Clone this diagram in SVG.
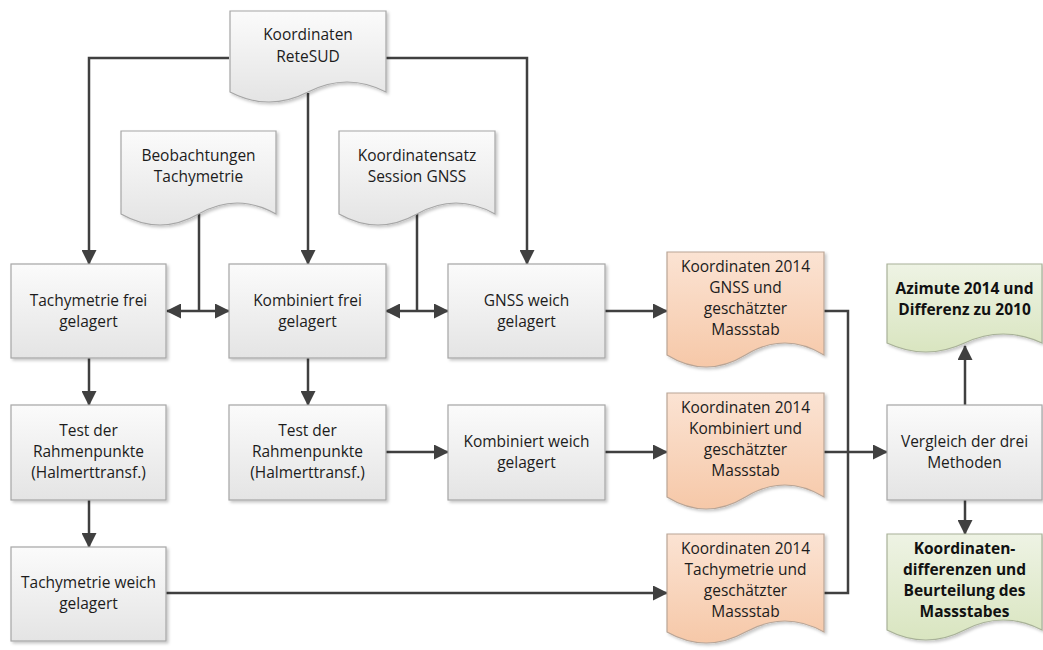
<svg xmlns="http://www.w3.org/2000/svg" width="1043" height="650" viewBox="0 0 1043 650">
<defs>
<linearGradient id="gGrey" x1="0" y1="0" x2="0" y2="1"><stop offset="0" stop-color="#fbfbfb"/><stop offset="1" stop-color="#e4e4e4"/></linearGradient>
<linearGradient id="gOrange" x1="0" y1="0" x2="0" y2="1"><stop offset="0" stop-color="#fbe3d3"/><stop offset="1" stop-color="#f6c8a8"/></linearGradient>
<linearGradient id="gGreen" x1="0" y1="0" x2="0" y2="1"><stop offset="0" stop-color="#eef3e4"/><stop offset="1" stop-color="#d9e5c0"/></linearGradient>
<filter id="sh" x="-10%" y="-10%" width="130%" height="130%"><feDropShadow dx="2" dy="2" stdDeviation="1.5" flood-color="#000" flood-opacity="0.22"/></filter>
<marker id="arr" markerUnits="userSpaceOnUse" markerWidth="15" markerHeight="15" viewBox="0 0 15 15" refX="14" refY="7.5" orient="auto-start-reverse"><path d="M0,0 L15,7.5 L0,15 z" fill="#404040"/></marker>
<style>
.grey{fill:url(#gGrey);stroke:#a6a6a6;stroke-width:1.2;filter:url(#sh)}
.orange{fill:url(#gOrange);stroke:#b9a596;stroke-width:1.2;filter:url(#sh)}
.green{fill:url(#gGreen);stroke:#a8b198;stroke-width:1.2;filter:url(#sh)}
text{font-family:"Open Sans","DejaVu Sans",sans-serif;font-size:15.5px;fill:#1c1c1c;text-anchor:middle}
.b{font-weight:bold;fill:#111}
.c{fill:none;stroke:#404040;stroke-width:2.5}
</style>
</defs>

<g id="connectors">
<path class="c" d="M229,58 H89 V264" marker-end="url(#arr)"/>
<path class="c" d="M386,58 H527 V264" marker-end="url(#arr)"/>
<path class="c" d="M308,93 V264" marker-end="url(#arr)"/>
<path class="c" d="M199,214 V311"/>
<path class="c" d="M167,311 H229" marker-start="url(#arr)" marker-end="url(#arr)"/>
<path class="c" d="M417,214 V311"/>
<path class="c" d="M386,311 H448" marker-start="url(#arr)" marker-end="url(#arr)"/>
<path class="c" d="M605,311 H667" marker-end="url(#arr)"/>
<path class="c" d="M89,358 V405" marker-end="url(#arr)"/>
<path class="c" d="M89,500 V547" marker-end="url(#arr)"/>
<path class="c" d="M308,358 V405" marker-end="url(#arr)"/>
<path class="c" d="M386,452 H448" marker-end="url(#arr)"/>
<path class="c" d="M605,452 H667" marker-end="url(#arr)"/>
<path class="c" d="M166,593 H667" marker-end="url(#arr)"/>
<path class="c" d="M824,311 H848 V593 H824"/>
<path class="c" d="M824,452 H887" marker-end="url(#arr)"/>
<path class="c" d="M965,405 V346" marker-end="url(#arr)"/>
<path class="c" d="M965,500 V534" marker-end="url(#arr)"/>
</g>

<g id="n-retesud">
<path class="grey" d="M230,11 H386 V92 Q347,72 308,92 Q269,112 230,92 Z"/>
<text x="308" y="40">Koordinaten</text><text x="308" y="62">ReteSUD</text>
</g>
<g id="n-beob">
<path class="grey" d="M121,131 H276 V214 Q237,192 198.5,214 Q160,236 121,214 Z"/>
<text x="198.5" y="161">Beobachtungen</text><text x="198.5" y="182">Tachymetrie</text>
</g>
<g id="n-ksatz">
<path class="grey" d="M339,131 H495 V214 Q456,192 417,214 Q378,236 339,214 Z"/>
<text x="417" y="161">Koordinatensatz</text><text x="417" y="182">Session GNSS</text>
</g>

<g id="n-tachyfrei">
<rect class="grey" x="11" y="264" width="155" height="94"/>
<text x="88.5" y="306">Tachymetrie frei</text><text x="88.5" y="327">gelagert</text>
</g>
<g id="n-kombifrei">
<rect class="grey" x="229" y="264" width="157" height="94"/>
<text x="307.5" y="306">Kombiniert frei</text><text x="307.5" y="327">gelagert</text>
</g>
<g id="n-gnssweich">
<rect class="grey" x="448" y="264" width="157" height="94"/>
<text x="526.5" y="306">GNSS weich</text><text x="526.5" y="327">gelagert</text>
</g>
<g id="n-ko1">
<path class="orange" d="M667,252 H824 V355 Q785,331 745.5,355 Q706,379 667,355 Z"/>
<text x="745.5" y="272">Koordinaten 2014</text><text x="745.5" y="293">GNSS und</text><text x="745.5" y="314">geschätzter</text><text x="745.5" y="335">Massstab</text>
</g>
<g id="n-azimute">
<path class="green" d="M887,264 H1042 V343 Q1003,325 964.5,343 Q926,361 887,343 Z"/>
<text class="b" x="964.5" y="294">Azimute 2014 und</text><text class="b" x="964.5" y="315">Differenz zu 2010</text>
</g>

<g id="n-test1">
<rect class="grey" x="11" y="405" width="155" height="95"/>
<text x="88.5" y="436">Test der</text><text x="88.5" y="457">Rahmenpunkte</text><text x="88.5" y="478">(Halmerttransf.)</text>
</g>
<g id="n-test2">
<rect class="grey" x="229" y="405" width="157" height="95"/>
<text x="307.5" y="436">Test der</text><text x="307.5" y="457">Rahmenpunkte</text><text x="307.5" y="478">(Halmerttransf.)</text>
</g>
<g id="n-kombiweich">
<rect class="grey" x="448" y="405" width="157" height="95"/>
<text x="526.5" y="447">Kombiniert weich</text><text x="526.5" y="468">gelagert</text>
</g>
<g id="n-ko2">
<path class="orange" d="M667,393 H824 V497 Q785,473 745.5,497 Q706,521 667,497 Z"/>
<text x="745.5" y="413">Koordinaten 2014</text><text x="745.5" y="434">Kombiniert und</text><text x="745.5" y="455">geschätzter</text><text x="745.5" y="476">Massstab</text>
</g>
<g id="n-vergleich">
<rect class="grey" x="887" y="405" width="155" height="95"/>
<text x="964.5" y="447">Vergleich der drei</text><text x="964.5" y="468">Methoden</text>
</g>

<g id="n-tachyweich">
<rect class="grey" x="11" y="547" width="155" height="94"/>
<text x="88.5" y="588">Tachymetrie weich</text><text x="88.5" y="609">gelagert</text>
</g>
<g id="n-ko3">
<path class="orange" d="M667,534 H824 V632 Q785,610 745.5,632 Q706,654 667,632 Z"/>
<text x="745.5" y="554">Koordinaten 2014</text><text x="745.5" y="575">Tachymetrie und</text><text x="745.5" y="596">geschätzter</text><text x="745.5" y="617">Massstab</text>
</g>
<g id="n-kdiff">
<path class="green" d="M887,534 H1042 V630 Q1003,610 964.5,630 Q926,650 887,630 Z"/>
<text class="b" x="964.5" y="554">Koordinaten-</text><text class="b" x="964.5" y="575">differenzen und</text><text class="b" x="964.5" y="596">Beurteilung des</text><text class="b" x="964.5" y="617">Massstabes</text>
</g>
</svg>
